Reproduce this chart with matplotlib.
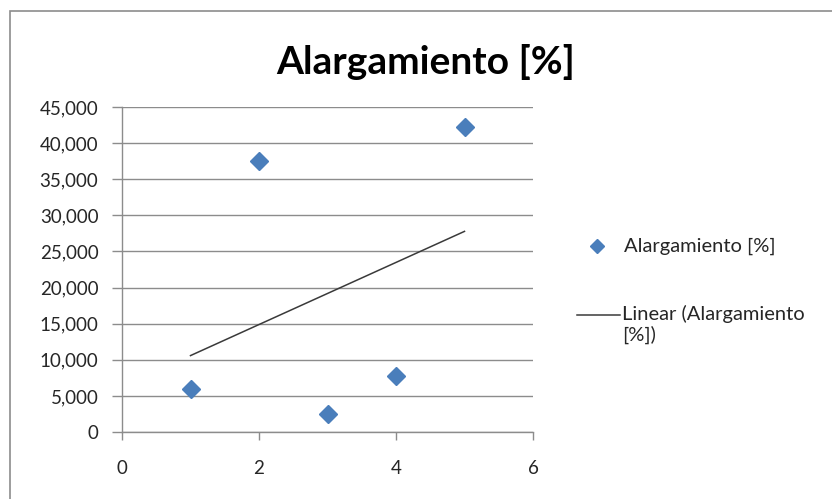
import matplotlib.pyplot as plt
from matplotlib.patches import Rectangle
from matplotlib.lines import Line2D
from matplotlib.ticker import FuncFormatter
import numpy as np

plt.rcParams['font.family'] = ['Lato', 'DejaVu Sans']

# data
x = [1, 2, 3, 4, 5]
alargamiento = [5900, 37500, 2500, 7700, 42300]
series_name = "Alargamiento [%]"
trend_name = "Linear (Alargamiento\n[%])"

# linear trendline (least squares, like Excel)
slope, intercept = np.polyfit(x, alargamiento, 1)
x_trend = np.array([min(x), max(x)])
y_trend = slope * x_trend + intercept

W, H = 832, 499
fig = plt.figure(figsize=(W / 100, H / 100), dpi=100)
ax = fig.add_axes([122 / W, 1 - 432 / H, 411 / W, 325 / H])

grid_c = '#8c8c8c'
blue = '#4a7ebb'
txt_c = '#262626'
ax.grid(axis='y', color=grid_c, linewidth=1)
ax.set_axisbelow(True)

ax.plot(x, alargamiento, linestyle='none', marker='D', markersize=9.5,
        color=blue, markeredgecolor=blue, zorder=3)
ax.plot(x_trend, y_trend, color='#3a3a3a', linewidth=1.1, zorder=2)

ax.set_xlim(0, 6)
ax.set_ylim(0, 45000)
ax.set_xticks([0, 2, 4, 6])
ax.set_yticks(range(0, 45001, 5000))
ax.yaxis.set_major_formatter(FuncFormatter(lambda v, p: f"{int(v):,}"))

for s in ['top', 'right']:
    ax.spines[s].set_visible(False)
for s in ['left', 'bottom']:
    ax.spines[s].set_color(grid_c)
    ax.spines[s].set_linewidth(1)
ax.tick_params(axis='both', direction='out', color=grid_c, width=1,
               labelsize=13.5, labelcolor=txt_c)
ax.tick_params(axis='x', length=6, pad=14)
ax.tick_params(axis='y', length=7, pad=10)

fig.text(426 / W, 1 - 74 / H, "Alargamiento [%]", ha='center', va='baseline',
         fontsize=28, fontweight='bold', color='black')

# legend, laid out like Excel's (handle aligned with first text line)
fig.add_artist(Line2D([597 / W], [1 - 246 / H], transform=fig.transFigure,
                      marker='D', markersize=7.5, color=blue, linestyle='none'))
fig.text(624 / W, 1 - 246 / H, series_name, ha='left', va='center',
         fontsize=14.5, color=txt_c)
fig.add_artist(Line2D([577 / W, 620 / W], [1 - 315 / H, 1 - 315 / H],
                      transform=fig.transFigure, color='#3a3a3a', linewidth=1.1))
fig.text(622 / W, 1 - 305 / H, trend_name, ha='left', va='top',
         fontsize=14.5, color=txt_c, linespacing=1.2)

# outer chart frame
fig.patches.append(Rectangle((10 / W, -0.05), 1.0, 1 - 11 / H + 0.05,
                             transform=fig.transFigure, fill=False,
                             edgecolor=grid_c, linewidth=1.2))

fig.savefig('out.png', dpi=100)
